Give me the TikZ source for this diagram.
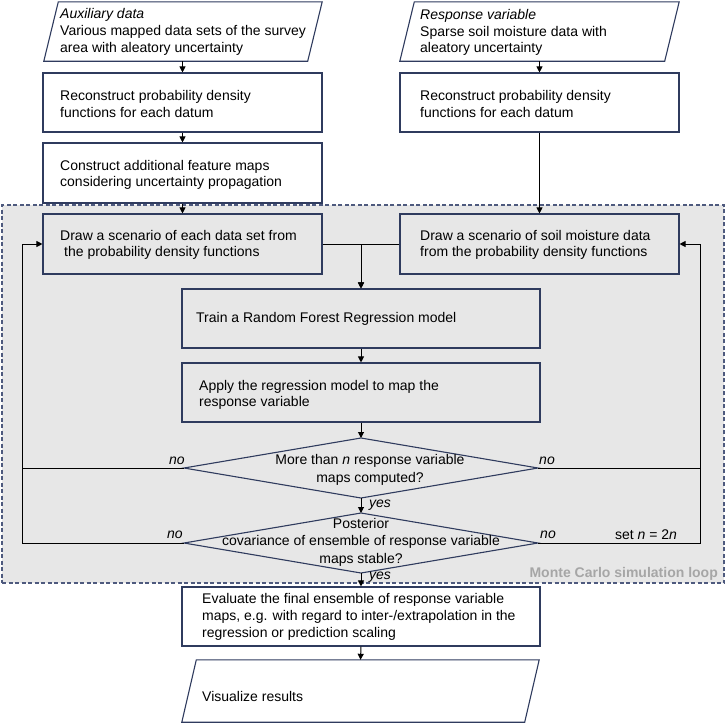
\documentclass[tikz,border=0pt]{standalone}
\usepackage{fontspec}
\setmainfont{Liberation Sans}
\usetikzlibrary{arrows.meta,calc}
\definecolor{navy}{HTML}{2F3B5E}
\definecolor{mcgray}{HTML}{E7E7E7}
\definecolor{dashc}{HTML}{4E5A7E}
\definecolor{lbl}{HTML}{A6A6A6}
\tikzset{
  box/.style={draw=navy, line width=1.1pt, inner sep=0pt, rectangle},
  topbox/.style={box, fill=white},
  inbox/.style={box, fill=mcgray},
  ghost/.style={draw=none, inner sep=0pt, rectangle},
  txt/.style={inner sep=0pt, align=left, anchor=west, font=\fontsize{14}{16.7}\selectfont},
  ctxt/.style={inner sep=0pt, align=center, font=\fontsize{14}{17.5}\selectfont},
  lab/.style={inner sep=0pt, font=\fontsize{14}{16.7}\selectfont\itshape},
  plain/.style={inner sep=0pt, font=\fontsize{14}{16.7}\selectfont},
  conn/.style={line width=1pt, black},
  arr/.style={conn, -{Triangle[length=6pt,width=6pt]}},
  shapeline/.style={draw=navy, line width=1.1pt},
}
\begin{document}
\begin{tikzpicture}[x=1pt,y=-1pt]
\useasboundingbox (0,0) rectangle (726,724);
% Monte Carlo loop region
\node[draw=dashc, fill=mcgray, line width=1.2pt, dash pattern=on 4pt off 2.5pt,
      inner sep=0pt, minimum width=722pt, minimum height=378pt] (loop) at (363,394) {};
\node[inner sep=0pt, anchor=east, text=lbl, font=\bfseries\fontsize{14}{16}\selectfont] (mc) at (718,574) {Monte Carlo simulation loop};

% top-left input
\node[ghost, minimum width=278pt, minimum height=59pt] (aux) at (183,31.5) {};
\draw[shapeline, fill=white] (aux.south west) -- ([xshift=-14.5pt]aux.south east) -- (aux.north east) -- ([xshift=14.5pt]aux.north west) -- cycle;
\node[txt] (auxt) at (60,32) {\textit{Auxiliary data}\\Various mapped data sets of the survey\\area with aleatory uncertainty};

\node[topbox, minimum width=279pt, minimum height=59pt] (b2) at (182.5,102.5) {};
\node[txt] (b2t) at (60,104) {Reconstruct probability density\\functions for each datum};

\node[topbox, minimum width=279pt, minimum height=60pt] (b3) at (182.5,173) {};
\node[txt] (b3t) at (60,175) {Construct additional feature maps\\considering uncertainty propagation};

% top-right input
\node[ghost, minimum width=279pt, minimum height=59pt] (resp) at (539.5,31.5) {};
\draw[shapeline, fill=white] (resp.south west) -- ([xshift=-14.5pt]resp.south east) -- (resp.north east) -- ([xshift=14.5pt]resp.north west) -- cycle;
\node[txt] (respt) at (420,32.5) {\textit{Response variable}\\Sparse soil moisture data with\\aleatory uncertainty};

\node[topbox, minimum width=279pt, minimum height=59pt] (rb2) at (539.5,102.5) {};
\node[txt] (rb2t) at (420,104) {Reconstruct probability density\\functions for each datum};

% loop boxes
\node[inbox, minimum width=279pt, minimum height=60pt] (dl) at (182.5,244) {};
\node[txt] (dlt) at (60,245) {Draw a scenario of each data set from\\\hspace*{4pt}the probability density functions};

\node[inbox, minimum width=279pt, minimum height=60pt] (dr) at (539.5,244) {};
\node[txt] (drt) at (420,245) {Draw a scenario of soil moisture data\\from the probability density functions};

\node[inbox, minimum width=358pt, minimum height=59pt] (train) at (361,318.5) {};
\node[txt] (traint) at (196,319) {Train a Random Forest Regression model};

\node[inbox, minimum width=358pt, minimum height=59pt] (apply) at (361,392.5) {};
\node[txt] (applyt) at (199,395) {Apply the regression model to map the\\response variable};

% diamonds
\coordinate (d1w) at (184,468);
\coordinate (d1n) at (361,438);
\coordinate (d1e) at (538,468);
\coordinate (d1s) at (361,498);
\draw[shapeline, fill=mcgray] (d1w) -- (d1n) -- (d1e) -- (d1s) -- cycle;
\node[ctxt] (d1) at (370,470) {More than \textit{n} response variable\\maps computed?};

\coordinate (d2w) at (184,543);
\coordinate (d2n) at (361,513);
\coordinate (d2e) at (538,543);
\coordinate (d2s) at (361,573);
\draw[shapeline, fill=mcgray] (d2w) -- (d2n) -- (d2e) -- (d2s) -- cycle;
\node[ctxt] (d2) at (361,542) {Posterior\\covariance of ensemble of response variable\\maps stable?};

% bottom
\node[topbox, minimum width=358pt, minimum height=59pt] (eval) at (361,616.5) {};
\node[txt] (evalt) at (202,617) {Evaluate the final ensemble of response variable\\maps, e.g. with regard to inter-/extrapolation in the\\regression or prediction scaling};

\node[ghost, minimum width=357pt, minimum height=62pt] (vis) at (360.5,691) {};
\draw[shapeline, fill=white] (vis.south west) -- ([xshift=-14.5pt]vis.south east) -- (vis.north east) -- ([xshift=14.5pt]vis.north west) -- cycle;
\node[txt] (vist) at (202,696) {Visualize results};

% connectors
\coordinate (L) at (22,244);
\coordinate (R) at (700,244);
\draw[arr] (b2.north |- aux.south) -- (b2.north);
\draw[arr] (b2.south) -- (b3.north);
\draw[arr] (b3.south) -- (dl.north);
\draw[arr] (rb2.north |- resp.south) -- (rb2.north);
\draw[arr] (rb2.south) -- (dr.north);
\draw[arr] (dl.east) -| (train.north);
\draw[arr] (dr.west) -| (train.north);
\draw[arr] (train.south) -- (apply.north);
\draw[arr] (apply.south) -- (d1n);
\draw[arr] (d1s) -- (d2n);
\draw[arr] (d2s) -- (eval.north);
\draw[arr] (eval.south) -- (vis.north);
\draw[arr] (d1w) -| (L) -- (dl.west);
\draw[conn] (d2w) -| (L);
\draw[arr] (d1e) -| (R) -- (dr.east);
\draw[conn] (d2e) -| (R);

% labels
\node[lab] (no1) at (177,461) {no};
\node[lab] (no2) at (547,461) {no};
\node[lab] (no3) at (175,535) {no};
\node[lab] (no4) at (548,535) {no};
\node[plain] (setn) at (646,535) {set \textit{n} = 2\textit{n}};
\node[lab] (yes1) at (380,505) {yes};
\node[lab] (yes2) at (380,577) {yes};
\end{tikzpicture}
\end{document}
